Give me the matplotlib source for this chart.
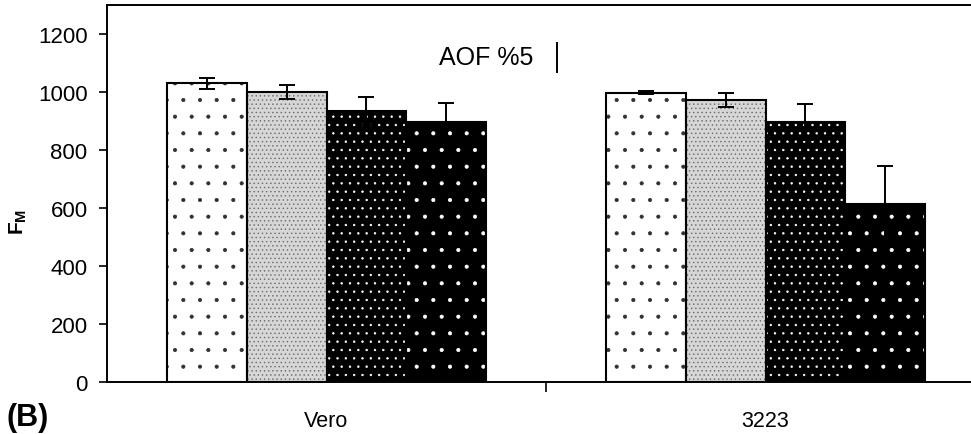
import numpy as np
import matplotlib
matplotlib.use("Agg")
import matplotlib.pyplot as plt

plt.rcParams["font.family"] = ["Liberation Sans", "DejaVu Sans"]
plt.rcParams["mathtext.fontset"] = "custom"
plt.rcParams["mathtext.bf"] = "Liberation Sans:bold"
plt.rcParams["hatch.linewidth"] = 0.5

# data
groups = ["Vero", "3223"]
means = [
    [1030, 997],   # series 1
    [1000, 973],   # series 2
    [935, 897],    # series 3
    [897, 615],    # series 4
]
errors = [
    [20, 5],
    [25, 25],
    [48, 62],
    [65, 131],
]

# look of each series: face, hatch, hatch colour
faces = ["white", "#d6d6d6", "black", "black"]
hatches = [".", "....", "..", "."]
hatch_cols = ["#303030", "#6a6a6a", "white", "white"]

fig = plt.figure(figsize=(9.71, 4.35), dpi=100)
ax = fig.add_axes([107 / 971, 52 / 435, 878 / 971, 377 / 435])

x = np.arange(len(groups))
w = 0.182
for i in range(4):
    pos = x + (i - 1.5) * w
    # hatch layer
    ax.bar(pos, means[i], w, color=faces[i], hatch=hatches[i],
           edgecolor=hatch_cols[i], linewidth=0, zorder=2)
    # outline
    ax.bar(pos, means[i], w, facecolor="none", edgecolor="black",
           linewidth=1.5, zorder=3)
    ax.errorbar(pos, means[i], yerr=errors[i], fmt="none", ecolor="black",
                elinewidth=1.4, capsize=6, capthick=1.4, zorder=4)

ax.set_xlim(-0.5, 1.5)
ax.set_ylim(0, 1300)
ax.set_yticks(np.arange(0, 1201, 200))
ax.set_xticks(x)
ax.set_xticklabels(groups)
ax.set_xticks([0.5, 1.5], minor=True)
ax.tick_params(axis="x", which="major", length=0, pad=20, labelsize=15.5)
ax.tick_params(axis="x", which="minor", length=7, width=1.2, direction="out")
ax.tick_params(axis="y", length=6, width=1.2, pad=8, labelsize=16)
for s in ["left", "bottom", "top"]:
    ax.spines[s].set_linewidth(1.4)
ax.spines["right"].set_visible(False)

ax.text(0.256, 1120, "AOF %5", fontsize=18, va="center", ha="left")
ax.plot([0.525, 0.525], [1069, 1169], color="black", lw=1.4)

fig.text(18 / 971, 0.49, r"$\mathbf{F_M}$", rotation=90, fontsize=15,
         ha="center", va="center")
fig.text(6 / 971, 0.04, "(B)", fontsize=22, fontweight="bold",
         ha="left", va="center")

fig.savefig("out.png", dpi=100)
